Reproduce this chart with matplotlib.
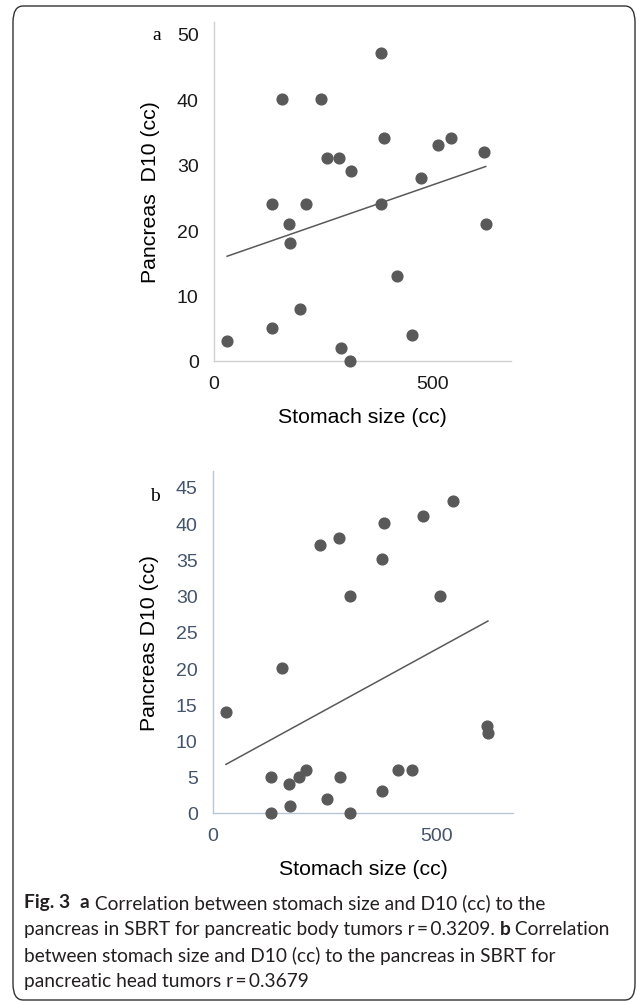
import numpy as np
import matplotlib
matplotlib.use("Agg")
import matplotlib.pyplot as plt
from matplotlib.patches import FancyBboxPatch

# panel a: pancreatic body tumors
stomach_a = [30, 133, 197, 133, 173, 174, 211, 156, 245, 259, 287, 313,
             291, 311, 384, 390, 383, 420, 454, 475, 513, 544, 620, 623]
d10_a = [3, 5, 8, 24, 21, 18, 24, 40, 40, 31, 31, 29,
         2, 0, 47, 34, 24, 13, 4, 28, 33, 34, 32, 21]

# panel b: pancreatic head tumors
stomach_b = [29, 130, 130, 170, 171, 153, 193, 207, 240, 255, 281, 284,
             306, 305, 378, 383, 377, 413, 445, 468, 506, 535, 611, 614]
d10_b = [14, 5, 0, 4, 1, 20, 5, 6, 37, 2, 38, 5,
         30, 0, 35, 40, 3, 6, 6, 41, 30, 43, 12, 11]

yticks_a = [0, 10, 20, 30, 40, 50]
yticks_b = [0, 5, 10, 15, 20, 25, 30, 35, 40, 45]
xticks = [0, 500]

dot = "#595959"
W, H = 637, 1003
fig = plt.figure(figsize=(W / 100, H / 100), dpi=100)
plt.rcParams["font.family"] = ["Liberation Sans", "DejaVu Sans"]

# outer rounded frame
frame = FancyBboxPatch((13 / W, 2 / H), 622 / W, 994 / H,
                       boxstyle="round,pad=0,rounding_size=0.016",
                       transform=fig.transFigure, fill=False,
                       edgecolor="#333333", linewidth=1.0)
fig.patches.append(frame)


def panel(rect, x, y, yticks, ylim, xlim, axcol, tickcol, ylabel):
    ax = fig.add_axes(rect)
    ax.scatter(x, y, s=60, color=dot, zorder=3, clip_on=False)
    k, b = np.polyfit(x, y, 1)
    xs = np.array([min(x), max(x)])
    ax.plot(xs, k * xs + b, color=dot, lw=1.1, zorder=2)
    ax.set_xlim(*xlim)
    ax.set_ylim(*ylim)
    ax.set_xticks(xticks)
    ax.set_yticks(yticks)
    for s in ["top", "right"]:
        ax.spines[s].set_visible(False)
    for s in ["left", "bottom"]:
        ax.spines[s].set_color(axcol)
        ax.spines[s].set_linewidth(1.0)
    ax.tick_params(length=0, labelsize=14, colors=tickcol)
    ax.tick_params(axis="x", pad=10)
    ax.tick_params(axis="y", pad=11)
    ax.set_xlabel("Stomach size (cc)", fontsize=15.3, labelpad=11, color="black")
    ax.set_ylabel(ylabel, fontsize=15.3, labelpad=12, color="black")
    return ax


ax_a = panel([214 / W, 1 - 362 / H, 297 / W, 339 / H], stomach_a, d10_a,
             yticks_a, (0, 51.8), (0, 681), "#d0d0d0", "#1a1a1a",
             "Pancreas  D10 (cc)")
ax_b = panel([213 / W, 1 - 814 / H, 300 / W, 342 / H], stomach_b, d10_b,
             yticks_b, (0, 47.2), (0, 670), "#b9c6d6", "#44546a",
             "Pancreas D10 (cc)")

fig.text(157 / W, 1 - 35 / H, "a", family="Liberation Serif", fontsize=14,
         ha="center", va="center")
fig.text(155 / W, 1 - 497 / H, "b", family="Liberation Serif", fontsize=14,
         ha="center", va="center")

# caption
cap = ["Lato", "DejaVu Sans"]
lines = [
    [("Fig. 3", "bold"), ("  ", "normal"), ("a", "bold"),
     (" Correlation between stomach size and D10 (cc) to the", "normal")],
    [("pancreas in SBRT for pancreatic body tumors r\u2009=\u20090.3209. ", "normal"),
     ("b", "bold"), (" Correlation", "normal")],
    [("between stomach size and D10 (cc) to the pancreas in SBRT for", "normal")],
    [("pancreatic head tumors r\u2009=\u20090.3679", "normal")],
]
renderer = fig.canvas.get_renderer()
ys = [903, 930, 956, 982]
for parts, yy in zip(lines, ys):
    xx = 24 / W
    for txt, wt in parts:
        t = fig.text(xx, 1 - yy / H, txt, family=cap, fontsize=13.8,
                     fontweight=wt, va="center", ha="left", color="#231f20")
        bb = t.get_window_extent(renderer=renderer)
        xx += bb.width / W

fig.savefig("out.png", dpi=100)
